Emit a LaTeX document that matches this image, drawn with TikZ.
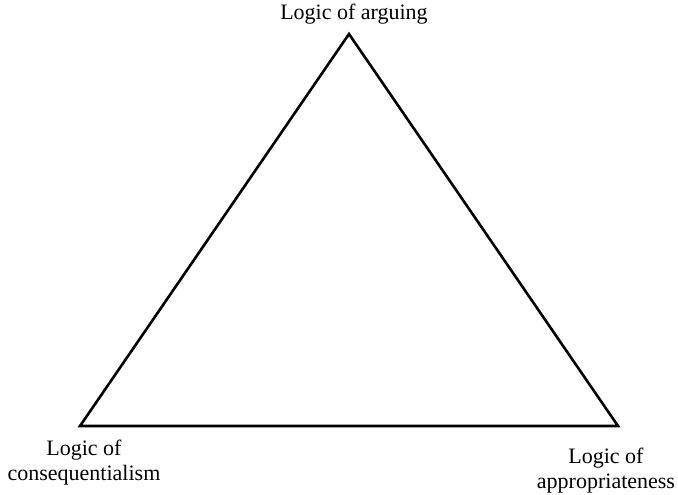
\documentclass[tikz,border=0pt]{standalone}
\usepackage{fontspec}
\setmainfont{Liberation Serif}
\usetikzlibrary{positioning}
\tikzset{
  logic/.style={font=\fontsize{22}{24.5}\selectfont,inner sep=0pt},
  side/.style={line width=2.6pt,line join=miter}
}

\begin{document}
\begin{tikzpicture}[x=1pt,y=1pt]
  \useasboundingbox (0,0) rectangle (678,495);

  % corners of the triangle
  \coordinate (arg) at (349,461);
  \coordinate (cons) at (80,69);
  \coordinate (appr) at (618,69);

  \draw[side] (arg) -- (cons) -- (appr) -- cycle;

  \node[logic,anchor=base] (argL) at (354,475) {Logic of arguing};
  \node[logic,anchor=north,align=center] (consL) at (84,55)
    {Logic of\\consequentialism};
  \node[logic,anchor=north,align=center] (apprL) at (606,47)
    {Logic of\\appropriateness};
\end{tikzpicture}
\end{document}
